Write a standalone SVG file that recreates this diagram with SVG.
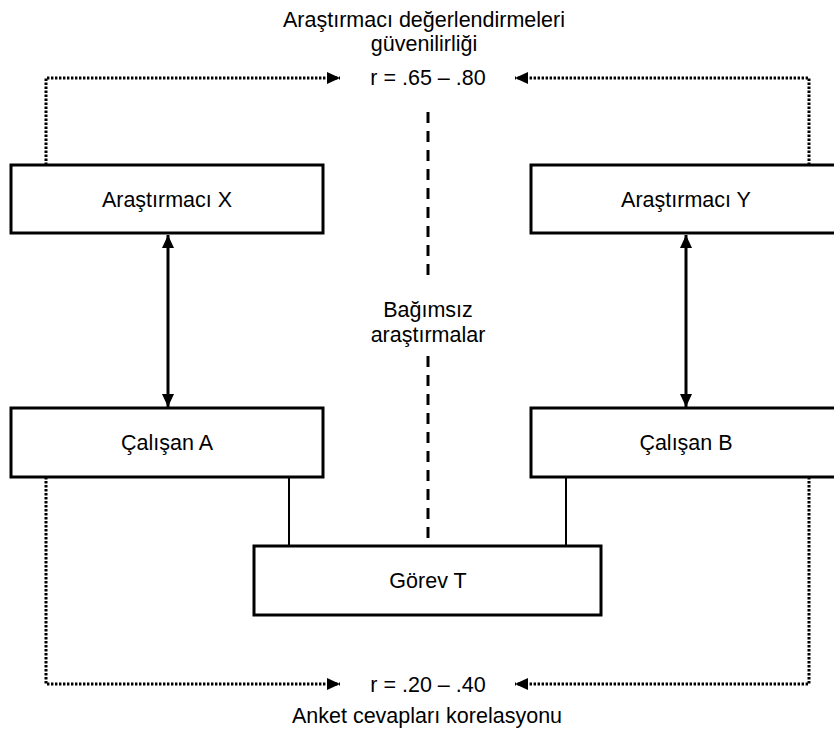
<svg xmlns="http://www.w3.org/2000/svg" width="834" height="737" viewBox="0 0 834 737">
  <style>
    .box { fill: #ffffff; stroke: #000000; stroke-width: 3; }
    .lbl { font-family: "Liberation Sans", Arial, sans-serif; font-size: 21.5px; fill: #000000; text-anchor: middle; }
    .dot { fill: none; stroke: #000000; stroke-width: 3; stroke-dasharray: 2.4 1.6; }
    .solid { fill: none; stroke: #000000; stroke-width: 2; }
    .dbl { fill: none; stroke: #000000; stroke-width: 3; }
    .dash { fill: none; stroke: #000000; stroke-width: 3; stroke-dasharray: 11 8; }
  </style>
  <defs>
    <marker id="head" viewBox="0 0 13 12" refX="13" refY="6" markerWidth="13" markerHeight="12" markerUnits="userSpaceOnUse" orient="auto-start-reverse">
      <path d="M0,0 L13,6 L0,12 Z" fill="#000000"/>
    </marker>
  </defs>
  <rect width="834" height="737" fill="#ffffff"/>

  <!-- heading and correlation labels -->
  <g id="labels">
    <text class="lbl" x="424" y="27">Araştırmacı değerlendirmeleri</text>
    <text class="lbl" x="424" y="51">güvenilirliği</text>
    <text class="lbl" x="428" y="85">r = .65 – .80</text>
    <text class="lbl" x="428" y="317">Bağımsız</text>
    <text class="lbl" x="428" y="342">araştırmalar</text>
    <text class="lbl" x="428" y="692">r = .20 – .40</text>
    <text class="lbl" x="427" y="723">Anket cevapları korelasyonu</text>
  </g>

  <!-- connectors -->
  <g id="connectors">
    <!-- rater reliability (top) -->
    <polyline class="dot" points="46,165 46,78 340,78" marker-end="url(#head)"/>
    <polyline class="dot" points="809,165 809,78 515,78" marker-end="url(#head)"/>
    <!-- survey correlation (bottom) -->
    <polyline class="dot" points="46,477 46,684 340,684" marker-end="url(#head)"/>
    <polyline class="dot" points="809,477 809,684 515,684" marker-end="url(#head)"/>
    <!-- researcher to employee -->
    <line class="dbl" x1="168" y1="235" x2="168" y2="407" marker-start="url(#head)" marker-end="url(#head)"/>
    <line class="dbl" x1="686" y1="235" x2="686" y2="407" marker-start="url(#head)" marker-end="url(#head)"/>
    <!-- employees to task -->
    <line class="solid" x1="289" y1="477" x2="289" y2="546"/>
    <line class="solid" x1="566" y1="477" x2="566" y2="546"/>
    <!-- independence divider -->
    <line class="dash" x1="428" y1="112" x2="428" y2="277"/>
    <line class="dash" x1="428" y1="356" x2="428" y2="539"/>
  </g>

  <g id="arastirmaci-x">
    <rect class="box" x="11" y="165" width="312" height="68"/>
    <text class="lbl" x="167" y="207">Araştırmacı X</text>
  </g>
  <g id="arastirmaci-y">
    <rect class="box" x="531" y="165" width="312" height="68"/>
    <text class="lbl" x="686" y="207">Araştırmacı Y</text>
  </g>
  <g id="calisan-a">
    <rect class="box" x="11" y="408" width="312" height="69"/>
    <text class="lbl" x="167" y="450">Çalışan A</text>
  </g>
  <g id="calisan-b">
    <rect class="box" x="531" y="408" width="312" height="69"/>
    <text class="lbl" x="686" y="450">Çalışan B</text>
  </g>
  <g id="gorev-t">
    <rect class="box" x="254" y="546" width="347" height="69"/>
    <text class="lbl" x="428" y="588">Görev T</text>
  </g>
</svg>
